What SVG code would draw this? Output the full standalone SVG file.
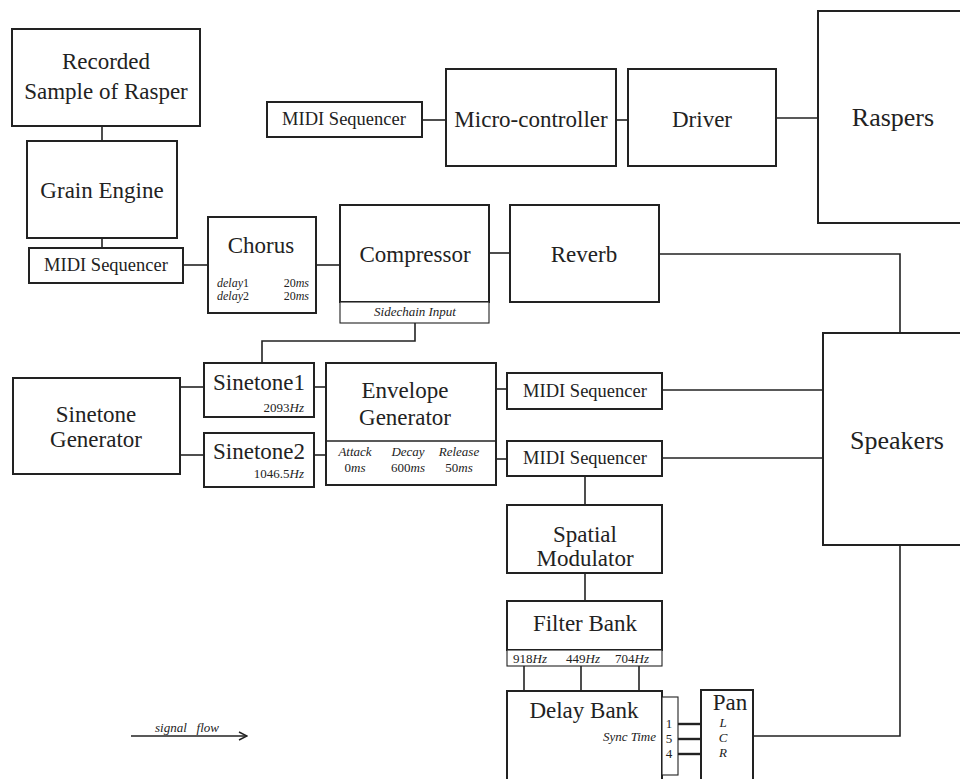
<svg xmlns="http://www.w3.org/2000/svg" width="960" height="779" viewBox="0 0 960 779">
  <style>
    .box { fill: #fff; stroke: #222; stroke-width: 2; }
    .sub { fill: #fff; stroke: #222; stroke-width: 1.1; }
    .wire { fill: none; stroke: #222; stroke-width: 1.6; }
    .bus { fill: none; stroke: #222; stroke-width: 2.4; }
    text { font-family: "Liberation Serif", "Times New Roman", serif; fill: #222; }
    .lbl { font-size: 23px; text-anchor: middle; }
    .big { font-size: 26px; text-anchor: middle; }
    .sm { font-size: 18.5px; text-anchor: middle; }
    .par { font-size: 13px; }
    .tiny { font-size: 12px; }
    .it { font-style: italic; }
    .mid { text-anchor: middle; }
    .end { text-anchor: end; }
  </style>
  <defs>
    <marker id="chevron" viewBox="0 0 10 10" refX="9" refY="5" markerWidth="10" markerHeight="10" markerUnits="userSpaceOnUse" orient="auto">
      <path d="M1,1 L9,5 L1,9" fill="none" stroke="#222" stroke-width="1.4"/>
    </marker>
  </defs>
  <rect width="960" height="779" fill="#fff"/>

  <!-- connectors -->
  <g id="connectors">
    <path class="wire" d="M102,126 V141"/>
    <path class="wire" d="M102,238 V248"/>
    <path class="wire" d="M183,265 H208"/>
    <path class="wire" d="M316,265 H340"/>
    <path class="wire" d="M489,253 H510"/>
    <path class="wire" d="M659,254 H900 V333"/>
    <path class="wire" d="M422,120 H446"/>
    <path class="wire" d="M616,120 H628"/>
    <path class="wire" d="M776,118 H818"/>
    <path class="wire" d="M415,323 V341 H262 V363"/>
    <path class="wire" d="M180,387 H204"/>
    <path class="wire" d="M180,455 H204"/>
    <path class="wire" d="M314,387 H326"/>
    <path class="wire" d="M314,455 H326"/>
    <path class="wire" d="M496,389 H507"/>
    <path class="wire" d="M496,459 H507"/>
    <path class="wire" d="M662,390 H823"/>
    <path class="wire" d="M662,458 H823"/>
    <path class="wire" d="M585,476 V505"/>
    <path class="wire" d="M585,573 V601"/>
    <path class="wire" d="M524,666 V691"/>
    <path class="wire" d="M581,666 V691"/>
    <path class="wire" d="M639,666 V691"/>
    <path class="bus" d="M678,724 H701"/>
    <path class="bus" d="M678,739 H701"/>
    <path class="bus" d="M678,754 H701"/>
    <path class="wire" d="M753,736 H900 V545"/>
  </g>

  <g id="recorded-sample">
    <rect class="box" x="12" y="29" width="188" height="97"/>
    <text class="lbl" x="106" y="69">Recorded</text>
    <text class="lbl" x="106" y="99">Sample of Rasper</text>
  </g>

  <g id="grain-engine">
    <rect class="box" x="27" y="141" width="150" height="97"/>
    <text class="lbl" x="102" y="198">Grain Engine</text>
  </g>

  <g id="midi-seq-grain">
    <rect class="box" x="29" y="248" width="154" height="35"/>
    <text class="sm" x="106" y="271">MIDI Sequencer</text>
  </g>

  <g id="chorus">
    <rect class="box" x="208" y="217" width="108" height="96"/>
    <text class="lbl" x="261" y="253">Chorus</text>
    <text class="tiny" x="217" y="287"><tspan class="it">delay</tspan>1</text>
    <text class="tiny end" x="309" y="287">20<tspan class="it">ms</tspan></text>
    <text class="tiny" x="217" y="300"><tspan class="it">delay</tspan>2</text>
    <text class="tiny end" x="309" y="300">20<tspan class="it">ms</tspan></text>
  </g>

  <g id="compressor">
    <rect class="box" x="340" y="205" width="149" height="97"/>
    <rect class="sub" x="340" y="302" width="149" height="21"/>
    <text class="lbl" x="415" y="262">Compressor</text>
    <text class="par it mid" x="415" y="316">Sidechain Input</text>
  </g>

  <g id="reverb">
    <rect class="box" x="510" y="205" width="149" height="97"/>
    <text class="lbl" x="584" y="262">Reverb</text>
  </g>

  <g id="midi-seq-top">
    <rect class="box" x="267" y="102" width="155" height="35"/>
    <text class="sm" x="344" y="125">MIDI Sequencer</text>
  </g>

  <g id="micro-controller">
    <rect class="box" x="446" y="69" width="170" height="97"/>
    <text class="lbl" x="531" y="127">Micro-controller</text>
  </g>

  <g id="driver">
    <rect class="box" x="628" y="69" width="148" height="97"/>
    <text class="lbl" x="702" y="127">Driver</text>
  </g>

  <g id="raspers">
    <rect class="box" x="818" y="11" width="150" height="212"/>
    <text class="big" x="893" y="126">Raspers</text>
  </g>

  <g id="speakers">
    <rect class="box" x="823" y="333" width="150" height="212"/>
    <text class="big" x="897" y="449">Speakers</text>
  </g>

  <g id="sinetone-generator">
    <rect class="box" x="13" y="378" width="167" height="96"/>
    <text class="lbl" x="96" y="422">Sinetone</text>
    <text class="lbl" x="96" y="447">Generator</text>
  </g>

  <g id="sinetone1">
    <rect class="box" x="204" y="363" width="110" height="54"/>
    <text class="lbl" x="259" y="390">Sinetone1</text>
    <text class="par end" x="304" y="412">2093<tspan class="it">Hz</tspan></text>
  </g>

  <g id="sinetone2">
    <rect class="box" x="204" y="433" width="110" height="54"/>
    <text class="lbl" x="259" y="459">Sinetone2</text>
    <text class="par end" x="304" y="478">1046.5<tspan class="it">Hz</tspan></text>
  </g>

  <g id="envelope-generator">
    <rect class="box" x="326" y="363" width="170" height="122"/>
    <path class="wire" d="M326,441 H496" stroke-width="1.1"/>
    <text class="lbl" x="405" y="398">Envelope</text>
    <text class="lbl" x="405" y="425">Generator</text>
    <text class="par it mid" x="355" y="456">Attack</text>
    <text class="par it mid" x="408" y="456">Decay</text>
    <text class="par it mid" x="459" y="456">Release</text>
    <text class="par mid" x="355" y="472">0<tspan class="it">ms</tspan></text>
    <text class="par mid" x="408" y="472">600<tspan class="it">ms</tspan></text>
    <text class="par mid" x="459" y="472">50<tspan class="it">ms</tspan></text>
  </g>

  <g id="midi-seq-1">
    <rect class="box" x="507" y="373" width="155" height="36"/>
    <text class="sm" x="585" y="397">MIDI Sequencer</text>
  </g>

  <g id="midi-seq-2">
    <rect class="box" x="507" y="441" width="155" height="35"/>
    <text class="sm" x="585" y="464">MIDI Sequencer</text>
  </g>

  <g id="spatial-modulator">
    <rect class="box" x="507" y="505" width="155" height="68"/>
    <text class="lbl" x="585" y="542">Spatial</text>
    <text class="lbl" x="585" y="566">Modulator</text>
  </g>

  <g id="filter-bank">
    <rect class="box" x="507" y="601" width="155" height="49"/>
    <rect class="sub" x="507" y="650" width="155" height="16"/>
    <text class="lbl" x="585" y="631">Filter Bank</text>
    <text class="par" x="513" y="663">918<tspan class="it">Hz</tspan></text>
    <text class="par" x="566" y="663">449<tspan class="it">Hz</tspan></text>
    <text class="par" x="615" y="663">704<tspan class="it">Hz</tspan></text>
  </g>

  <g id="delay-bank">
    <rect class="box" x="507" y="691" width="155" height="100"/>
    <text class="lbl" x="584" y="718">Delay Bank</text>
    <text class="par it end" x="656" y="741">Sync Time</text>
    <rect class="sub" x="662" y="697" width="16" height="78"/>
    <text class="par mid" x="669" y="728">1</text>
    <text class="par mid" x="669" y="743">5</text>
    <text class="par mid" x="669" y="758">4</text>
  </g>

  <g id="pan">
    <rect class="box" x="701" y="690" width="52" height="100"/>
    <text class="lbl" x="730" y="710">Pan</text>
    <text class="par it mid" x="723" y="727">L</text>
    <text class="par it mid" x="723" y="742">C</text>
    <text class="par it mid" x="723" y="757">R</text>
  </g>

  <g id="legend">
    <path class="wire" d="M131,736 H247" marker-end="url(#chevron)"/>
    <text class="par it" x="155" y="732" font-size="12" xml:space="preserve">signal   flow</text>
  </g>
</svg>
